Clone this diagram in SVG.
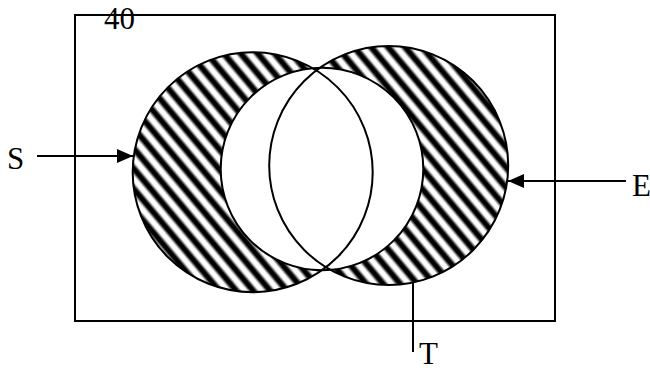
<svg xmlns="http://www.w3.org/2000/svg" width="650" height="371" viewBox="0 0 650 371">
  <defs>
    <linearGradient id="stripeGrad" x1="0" y1="0" x2="0" y2="1">
      <stop offset="0" stop-color="#fff"/>
      <stop offset="0.1" stop-color="#fff"/>
      <stop offset="0.33" stop-color="#000"/>
      <stop offset="0.58" stop-color="#000"/>
      <stop offset="0.82" stop-color="#fff"/>
      <stop offset="1" stop-color="#fff"/>
    </linearGradient>
    <pattern id="hatch" width="13" height="13" patternUnits="userSpaceOnUse" patternTransform="rotate(50)">
      <rect x="0" y="0" width="13" height="13" fill="url(#stripeGrad)"/>
    </pattern>
    <marker id="arrow" viewBox="0 0 16 14" refX="16" refY="7" markerWidth="16" markerHeight="14" markerUnits="userSpaceOnUse" orient="auto">
      <path d="M0,0 L16,7 L0,14 Z" fill="#000"/>
    </marker>
  </defs>
  <style>
    .outline { fill: none; stroke: #000; stroke-width: 2; }
    .conn { stroke: #000; stroke-width: 2; fill: none; }
    .lbl { font-family: "Liberation Serif", "Times New Roman", serif; font-size: 31px; fill: #000; }
  </style>

  <rect width="650" height="371" fill="#fff"/>

  <g id="universe">
    <rect x="75" y="15" width="480" height="306" fill="none" stroke="#000" stroke-width="2"/>
    <text class="lbl" x="104" y="29">40</text>
  </g>

  <g id="fills">
    <circle cx="252.7" cy="172.2" r="120" fill="url(#hatch)"/>
    <circle cx="388.7" cy="165.5" r="119.5" fill="url(#hatch)"/>
    <circle cx="322" cy="169" r="101.3" fill="#fff"/>
  </g>

  <g id="S">
    <circle class="outline" cx="252.7" cy="172.2" r="120"/>
  </g>
  <g id="E">
    <circle class="outline" cx="388.7" cy="165.5" r="119.5"/>
  </g>
  <g id="T">
    <circle class="outline" cx="322" cy="169" r="101.3"/>
  </g>

  <g id="connectors">
    <line class="conn" x1="37" y1="156" x2="133" y2="156" marker-end="url(#arrow)"/>
    <line class="conn" x1="626" y1="181" x2="508" y2="181" marker-end="url(#arrow)"/>
    <line class="conn" x1="413" y1="282" x2="413" y2="352"/>
  </g>

  <g id="labels">
    <text class="lbl" x="7" y="169">S</text>
    <text class="lbl" x="632" y="196">E</text>
    <text class="lbl" x="419" y="364">T</text>
  </g>
</svg>
